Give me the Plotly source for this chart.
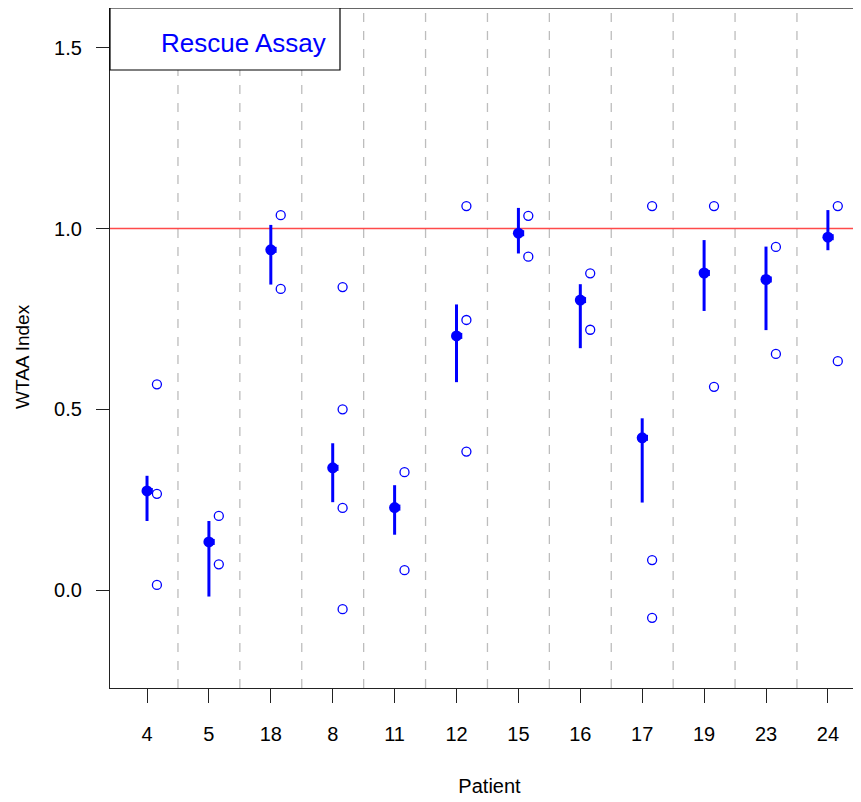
import plotly.graph_objects as go

patients = ["4", "5", "18", "8", "11", "12", "15", "16", "17", "19", "23", "24"]
mean_vals = [0.274, 0.133, 0.941, 0.338, 0.228, 0.703, 0.987, 0.802, 0.421, 0.877, 0.859, 0.976]
upper_vals = [0.316, 0.191, 1.010, 0.406, 0.290, 0.790, 1.057, 0.846, 0.475, 0.968, 0.950, 1.051]
lower_vals = [0.191, -0.018, 0.845, 0.243, 0.153, 0.575, 0.931, 0.669, 0.242, 0.772, 0.719, 0.940]
replicates = [
    [0.569, 0.266, 0.014],
    [0.205, 0.071],
    [1.037, 0.833],
    [0.838, 0.500, 0.227, -0.053],
    [0.326, 0.055],
    [1.062, 0.747, 0.383],
    [1.035, 0.922],
    [0.876, 0.720],
    [1.062, 0.083, -0.077],
    [1.062, 0.562],
    [0.949, 0.653],
    [1.062, 0.633],
]
y_ticks = [0.0, 0.5, 1.0, 1.5]
reference_level = 1.0
legend_label = "Rescue Assay"

pos = list(range(1, len(patients) + 1))
rep_offset = 0.16

PW, PH = 759, 680  # plot area size in px

fig = go.Figure()

# separators
for i in range(1, len(patients)):
    fig.add_shape(type="line", xref="x", yref="paper", x0=i + 0.5, x1=i + 0.5, y0=0, y1=1,
                  line=dict(color="#bdbdbd", width=1.3, dash="dash"), layer="below")

# reference line
fig.add_shape(type="line", xref="paper", yref="y", x0=0, x1=1, y0=reference_level, y1=reference_level,
              line=dict(color="#ff4a4a", width=1.5), layer="below")

# replicate points
rx, ry = [], []
for p, reps in zip(pos, replicates):
    for v in reps:
        rx.append(p + rep_offset)
        ry.append(v)
fig.add_trace(go.Scatter(x=rx, y=ry, mode="markers",
                         marker=dict(symbol="circle-open", size=9, color="#0000ff", line=dict(width=1.3, color="#0000ff")),
                         showlegend=False, hoverinfo="skip"))

# mean with error bars
fig.add_trace(go.Scatter(
    x=pos, y=mean_vals, mode="markers",
    marker=dict(symbol="circle", size=11, color="#0000ff"),
    error_y=dict(type="data", symmetric=False,
                 array=[u - m for u, m in zip(upper_vals, mean_vals)],
                 arrayminus=[m - l for m, l in zip(mean_vals, lower_vals)],
                 width=0, thickness=3, color="#0000ff"),
    showlegend=False, hoverinfo="skip"))
# small square mark beside each mean (as in the original)
fig.add_trace(go.Scatter(
    x=[p + 0.045 for p in pos], y=mean_vals, mode="markers",
    marker=dict(symbol="square", size=6, color="#0000ff"),
    showlegend=False, hoverinfo="skip"))

# top frame line
fig.add_shape(type="line", xref="paper", yref="paper", x0=0, x1=1, y0=1, y1=1,
              line=dict(color="#333333", width=1.3))

# legend box
fig.add_shape(type="rect", xref="paper", yref="paper", x0=0, x1=230 / PW, y0=1 - 62 / PH, y1=1,
              line=dict(color="black", width=1.2), fillcolor="white")
fig.add_annotation(xref="paper", yref="paper", x=218 / PW, y=1 - 35 / PH, text=legend_label,
                   showarrow=False, xanchor="right", yanchor="middle",
                   font=dict(family="Liberation Sans", size=26, color="#0000ff"))

# y axis title
fig.add_annotation(xref="paper", yref="paper", x=(23 - 110) / PW, y=1 - 349 / PH, text="WTAA Index",
                   showarrow=False, xanchor="center", yanchor="middle", textangle=-90,
                   font=dict(family="Liberation Sans", size=19, color="black"))

fig.update_layout(
    width=861, height=794,
    margin=dict(l=102, r=0, t=0, b=114),
    paper_bgcolor="white", plot_bgcolor="white",
    font=dict(family="Liberation Sans", size=20, color="black"),
    xaxis=dict(range=[0.402, 12.664], tickmode="array", tickvals=pos, ticktext=patients,
               showgrid=False, zeroline=False, showline=True, linecolor="#222222", linewidth=1.3,
               ticks="outside", ticklen=14, tickwidth=1.2, tickcolor="#222222",
               ticklabelstandoff=14,
               title=dict(text="Patient", font=dict(size=20), standoff=34)),
    yaxis=dict(range=[-0.271, 1.610], tickmode="array", tickvals=y_ticks, tickformat=".1f",
               showgrid=False, zeroline=False, showline=True, linecolor="#222222", linewidth=1.3,
               ticks="outside", ticklen=13, tickwidth=1.2, tickcolor="#222222",
               ticklabelstandoff=10),
)

fig.write_html("out.html")
